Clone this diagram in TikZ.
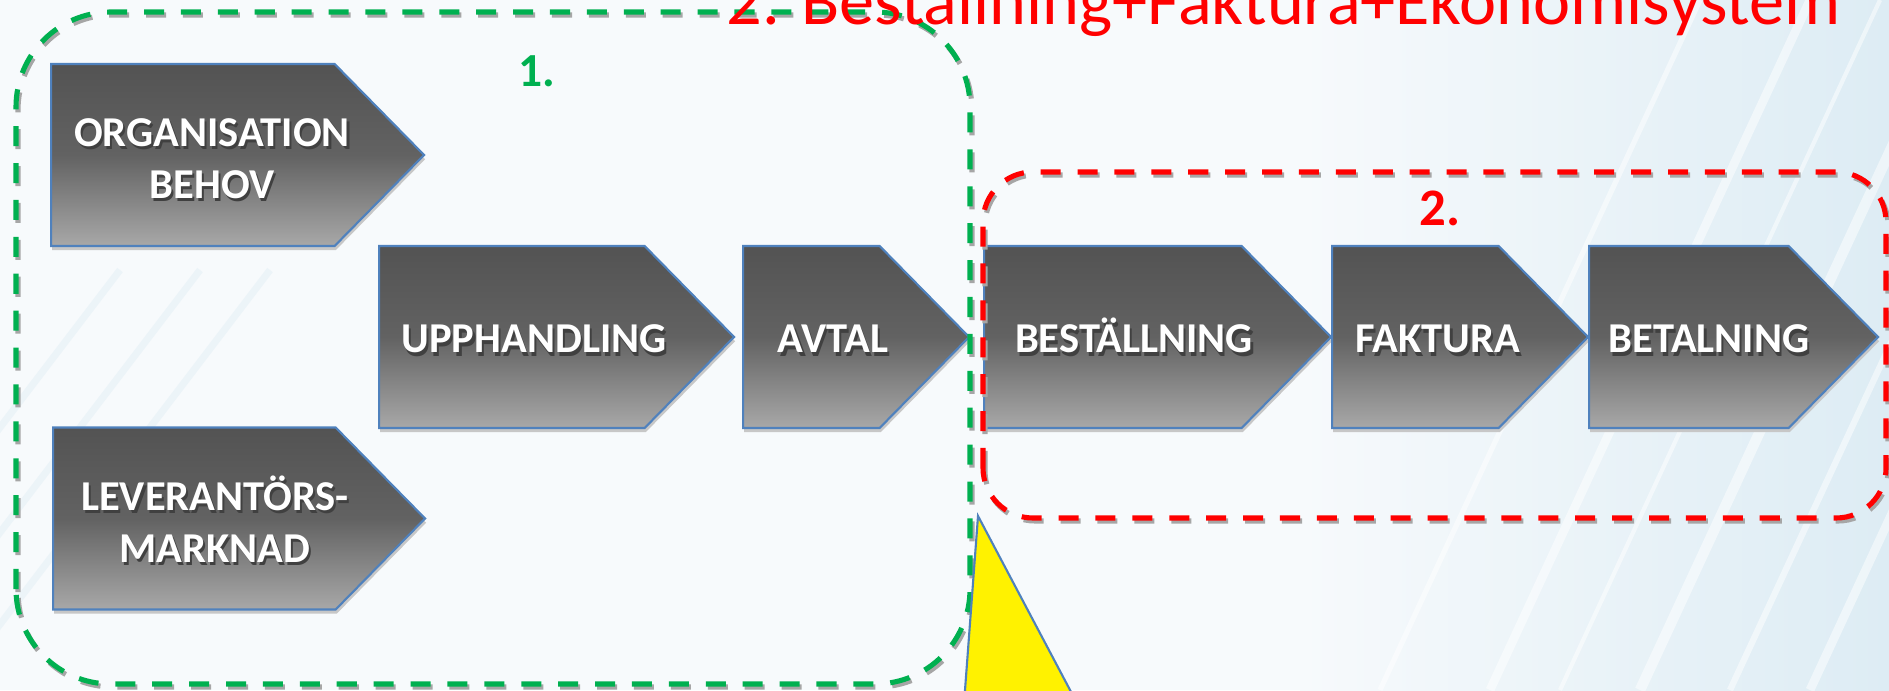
\documentclass[tikz,border=0pt]{standalone}
\usepackage{fontspec}
\setmainfont{Carlito}
\usetikzlibrary{shapes.symbols,shadows}

\definecolor{boxblue}{HTML}{4F81BD}
\definecolor{phasegreen}{HTML}{00B050}
\definecolor{phasered}{HTML}{FF0000}
\definecolor{bgbase}{HTML}{F7FAFC}
\definecolor{bgblue}{HTML}{DDECF4}
\definecolor{boxtop}{HTML}{535353}
\definecolor{boxmid}{HTML}{626262}
\definecolor{boxbot}{HTML}{A8A8A8}

\newcommand\shadowtext[1]{\rlap{\kern0.6pt\raisebox{-0.9pt}{\color{black!75}#1}}#1}

\tikzset{
  stage/.style={signal, signal to=east, signal pointer angle=91, anchor=west,
    draw=boxblue, line width=0.6pt, inner sep=0pt, minimum height=1.82cm,
    top color=boxtop, bottom color=boxbot, middle color=boxmid,
    drop shadow={shadow xshift=0.3pt, shadow yshift=-1.2pt, fill=black!22, opacity=1}},
  stagelabel/.style={text=white, font=\fontsize{12.1}{14.8}\selectfont\bfseries,
    align=center, inner sep=0pt},
  phase/.style={line width=1.45pt, dash pattern=on 5.7pt off 4.8pt},
  phaseshadow/.style={phase, draw=black!35, shift={(0.02,-0.03)}},
}

\begin{document}
\begin{tikzpicture}
\useasboundingbox (0,0) rectangle (18.89,6.90);
% background
\begin{scope}
\clip (0,0) rectangle (18.89,6.90);
\fill[bgbase] (0,0) rectangle (18.89,6.90);
\shade[left color=bgbase, right color=bgblue] (13,0) rectangle (18.89,6.90);
\foreach \x/\w in {13.8/1.5,14.9/2.5,15.6/1.2,16.4/3,17.3/1.8,18.1/2.5}
  \draw[white, line width=\w pt, opacity=0.5] (\x,0) -- ++(3.2,6.9);
\foreach \x in {-2.0,-1.2,-0.5}
  \draw[bgblue, line width=2pt, opacity=0.4] (\x,0) -- ++(3.2,4.2);
\end{scope}

% stages
\node[stage, minimum width=3.73cm] (org)   at (0.50,5.35) {};
\node[stage, minimum width=3.72cm] (lev)   at (0.52,1.715) {};
\node[stage, minimum width=3.55cm] (upph)  at (3.78,3.53) {};
\node[stage, minimum width=2.26cm] (avtal) at (7.42,3.53) {};
\node[stage, minimum width=3.47cm] (best)  at (9.83,3.53) {};
\node[stage, minimum width=2.56cm] (fakt)  at (13.31,3.53) {};
\node[stage, minimum width=2.89cm] (betal) at (15.88,3.53) {};

\node[stagelabel] (org-t)   at (2.12,5.30)  {\shadowtext{ORGANISATION}\\\shadowtext{BEHOV}};
\node[stagelabel] (lev-t)   at (2.15,1.69)  {\shadowtext{LEVERANTÖRS-}\\\shadowtext{MARKNAD}};
\node[stagelabel, anchor=base] (upph-t)  at (5.34,3.37)  {\shadowtext{UPPHANDLING}};
\node[stagelabel, anchor=base] (avtal-t) at (8.33,3.37)  {\shadowtext{AVTAL}};
\node[stagelabel, anchor=base] (best-t)  at (11.34,3.37) {\shadowtext{BESTÄLLNING}};
\node[stagelabel, anchor=base] (fakt-t)  at (14.38,3.37) {\shadowtext{FAKTURA}};
\node[stagelabel, anchor=base] (betal-t) at (17.09,3.37) {\shadowtext{BETALNING}};

% phase frames
\draw[phaseshadow, rounded corners=0.95cm] (0.16,0.06) rectangle (9.70,6.78);
\draw[phase, draw=phasegreen, rounded corners=0.95cm] (0.16,0.06) rectangle (9.70,6.78);
\draw[phaseshadow, rounded corners=0.5cm] (9.83,1.72) rectangle (18.86,5.18);
\draw[phase, draw=phasered, rounded corners=0.5cm] (9.83,1.72) rectangle (18.86,5.18);

\node[anchor=base, inner sep=0pt, text=phasegreen, font=\fontsize{13.5}{16}\selectfont\bfseries] (one) at (5.37,6.03) {1.};
\node[anchor=base, inner sep=0pt, text=phasered, font=\fontsize{15}{18}\selectfont\bfseries] (two) at (14.40,4.64) {2.};
\node[anchor=base west, inner sep=0pt, text=phasered, font=\fontsize{20}{22}\selectfont] (title) at (7.26,6.65) {2. Beställning+Faktura+Ekonomisystem};

% pointer
\begin{scope}
\clip (0,0) rectangle (18.89,6.90);
\draw[boxblue, line width=0.6pt, fill=yellow] (9.78,1.74) -- (10.753,-0.1) -- (9.6425,-0.1) -- cycle;
\end{scope}
\end{tikzpicture}
\end{document}
